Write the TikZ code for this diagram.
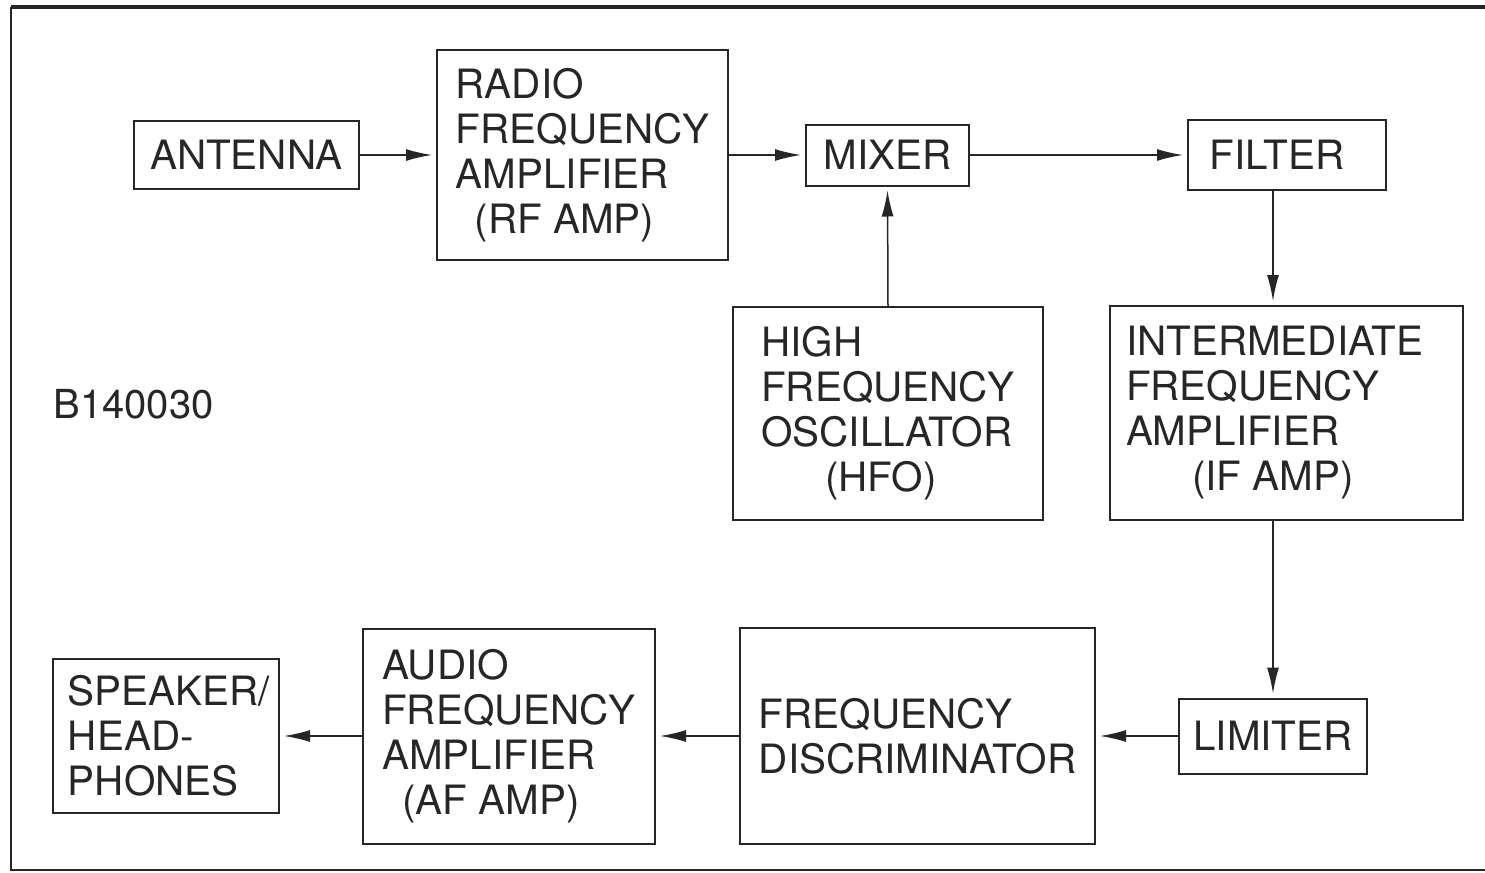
\documentclass[tikz,border=0pt]{standalone}
\usepackage{fontspec}
\setmainfont{TeX Gyre Heros}
\usetikzlibrary{arrows.meta, positioning}
\definecolor{inkgray}{RGB}{38, 38, 38}

\tikzset{
  blockbox/.style={draw=inkgray, line width=1pt, inner sep=0pt, align=left, text=inkgray,
    font=\fontsize{20.2}{22.5}\selectfont},
  sig/.style={draw=inkgray, line width=0.75pt, shorten >=2pt, -{Latex[length=13pt, width=6pt]}}
}

\begin{document}
\begin{tikzpicture}[x=0.5pt, y=-0.5pt]
  \useasboundingbox (0,0) rectangle (1485,873);
  \draw[inkgray, line width=2pt] (1485,7) -- (11,7);
  \draw[inkgray, line width=1.2pt] (11,7) -- (11,870) -- (1485,870);

  \node[blockbox, minimum width=112.5pt, minimum height=34pt] (ant) at (246.5,155) {ANTENNA};
  \node[blockbox, minimum width=145.5pt, minimum height=105pt] (rf) at (582.5,155)
    {RADIO\\FREQUENCY\\AMPLIFIER\\\hspace*{9.5pt}(RF AMP)};
  \node[blockbox, minimum width=81.5pt, minimum height=30.5pt] (mix) at (887.5,155) {MIXER};
  \node[blockbox, minimum width=99pt, minimum height=35pt] (filt) at (1287,155) {FILTER\hspace*{10pt}};
  \node[blockbox, minimum width=155pt, minimum height=106.5pt] (hfo) at (888,413.5)
    {HIGH\\FREQUENCY\hspace*{10pt}\\OSCILLATOR\hspace*{10pt}\\\hspace*{32pt}(HFO)};
  \node[blockbox, minimum width=176.5pt, minimum height=107pt] (ifamp) at (1286.5,413)
    {INTERMEDIATE\hspace*{12pt}\\FREQUENCY\\AMPLIFIER\\\hspace*{33pt}(IF AMP)};
  \node[blockbox, minimum width=94pt, minimum height=37.5pt] (lim) at (1273,736) {LIMITER};
  \node[blockbox, minimum width=177.5pt, minimum height=108pt] (disc) at (917.5,736)
    {FREQUENCY\\DISCRIMINATOR};
  \node[blockbox, minimum width=146pt, minimum height=107.5pt] (af) at (509,736)
    {AUDIO\\FREQUENCY\\AMPLIFIER\\\hspace*{10pt}(AF AMP)};
  \node[blockbox, minimum width=113pt, minimum height=77pt] (spk) at (166,736)
    {\hspace*{3pt}SPEAKER/\\\hspace*{3pt}HEAD-\\\hspace*{3pt}PHONES};
  \node[anchor=base west, inner sep=0pt, text=inkgray, font=\fontsize{20}{22}\selectfont] (code) at (53,418) {B140030};

  \draw[sig] (ant.east) -- (rf.west);
  \draw[sig] (rf.east) -- (mix.west);
  \draw[sig] (mix.east) -- (filt.west);
  \draw[sig] (hfo.north) -- (mix.south);
  \draw[sig] (filt.south -| lim.north) -- (ifamp.north -| lim.north);
  \draw[sig] (ifamp.south -| lim.north) -- (lim.north);
  \draw[sig] (lim.west) -- (disc.east);
  \draw[sig] (disc.west) -- (af.east);
  \draw[sig] (af.west) -- (spk.east);
\end{tikzpicture}
\end{document}
